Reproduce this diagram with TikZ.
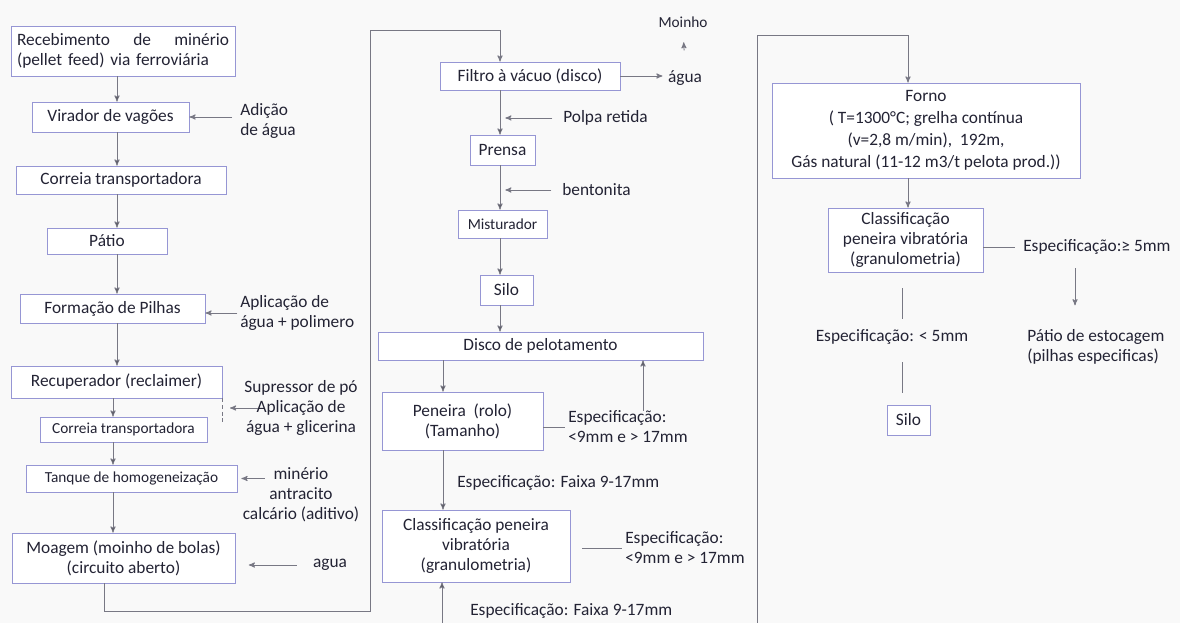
\documentclass[tikz,border=0pt]{standalone}
\usepackage{fontspec}
\setmainfont{Carlito}
\usepackage{tikz}
\usetikzlibrary{arrows, positioning}
\definecolor{caixa_lilas}{RGB}{150,150,212}
\definecolor{linha_cinza}{RGB}{120,120,132}
\definecolor{texto_escuro}{RGB}{35,35,52}
\definecolor{fundo}{RGB}{249,249,249}

\begin{document}
\begin{tikzpicture}[x=0.75pt, y=-0.75pt]
	\tikzset{
		>=stealth', % pontas de seta pequenas
		every node/.style={font=\fontsize{13}{15}\selectfont, text=texto_escuro, inner sep=0pt}, % texto de todos os nos
		linha/.style={draw=linha_cinza, line width=0.7pt}, % conectores
	}
	\tikzstyle{etapa} = [draw=caixa_lilas, fill=white, line width=0.7pt, align=center]
	\tikzstyle{menor} = [font=\fontsize{11.5}{13}\selectfont]
	\useasboundingbox (0,0) rectangle (1180,623);
	\fill[fundo] (0,0) rectangle (1180,623);

	% guias das colunas
	\coordinate (c0) at (104,0);
	\coordinate (c1) at (117,0);
	\coordinate (c1b) at (113,0);
	\coordinate (c2) at (500,0);
	\coordinate (c3) at (643,0);
	\coordinate (c4) at (443,0);
	\coordinate (c5) at (908,0);
	\coordinate (c6) at (1075,0);
	\coordinate (c7) at (902,0);
	\coordinate (lpa) at (370,611);
	\coordinate (lpb) at (500,30);
	\coordinate (frb) at (757,623);
	\coordinate (frt) at (908,35);
	\coordinate (baixo) at (442,623);
	\coordinate (supalvo) at (230,408);

	% coluna 1
	\node[etapa, minimum width=168pt, minimum height=37.5pt, text width=159pt, align=left] (receb) at (123,51) {Recebimento\hfill de\hfill minério\\(pellet feed) via ferroviária};
	\node[etapa, minimum width=117.75pt, minimum height=22.5pt] (virador) at (110.5,117) {Virador de vagões};
	\node[etapa, minimum width=157.5pt, minimum height=21pt] (correia) at (121,180) {Correia transportadora};
	\node[etapa, minimum width=90pt, minimum height=19.5pt] (patio) at (107,241) {Pátio};
	\node[etapa, minimum width=138.75pt, minimum height=21.75pt] (pilhas) at (112.5,308.5) {Formação de Pilhas};
	\node[etapa, minimum width=158.25pt, minimum height=24pt] (recup) at (116.5,382) {Recuperador (reclaimer)};
	\node[etapa, menor, minimum width=125.25pt, minimum height=18.75pt] (correiab) at (123.5,429.5) {Correia transportadora};
	\node[etapa, menor, minimum width=158.25pt, minimum height=20.25pt] (tanque) at (131.5,478.5) {Tanque de homogeneização};
	\node[etapa, minimum width=167.25pt, minimum height=37.5pt] (moagem) at (123.5,558) {Moagem (moinho de bolas)\\(circuito aberto)};

	\node[align=left, anchor=west] (adicao) at (240,121) {Adição\\de água};
	\node[align=left, anchor=west] (aplic) at (240,313) {Aplicação de\\água + polimero};
	\node[align=center] (supressor) at (301,408) {Supressor de pó\\Aplicação de\\água + glicerina};
	\node[align=center] (aditivos) at (301,495) {minério\\antracito\\calcário (aditivo)};
	\node (agua) at (330,565) {agua};

	% coluna 2
	\node[etapa, minimum width=135pt, minimum height=21pt] (filtro) at (530,76) {Filtro à vácuo (disco)};
	\node (aguaf) at (685,78) {água};
	\node[menor] (moinho) at (683,22) {Moinho};
	\node[anchor=west] (polpa) at (563,118) {Polpa retida};
	\node[etapa, minimum width=48.75pt, minimum height=22.5pt] (prensa) at (502.5,150) {Prensa};
	\node[anchor=west] (bentonita) at (562,190) {bentonita};
	\node[etapa, menor, minimum width=66.75pt, minimum height=21pt] (mistur) at (502.5,224) {Misturador};
	\node[etapa, minimum width=39.75pt, minimum height=22.5pt] (silo) at (506.5,290) {Silo};
	\node[etapa, minimum width=243.75pt, minimum height=21pt] (disco) at (540.5,346) {Disco de pelotamento};
	\node[etapa, minimum width=120.75pt, minimum height=43.5pt] (peneira) at (462.5,421) {Peneira \ (rolo)\\(Tamanho)};
	\node[align=left, anchor=west] (espa) at (568,427) {Especificação:\\<9mm e > 17mm};
	\node[anchor=west] (faixaa) at (457,483) {Especificação: Faixa 9-17mm};
	\node[etapa, minimum width=141pt, minimum height=54pt] (classif) at (476,546) {Classificação peneira\\vibratória\\(granulometria)};
	\node[align=left, anchor=west] (espb) at (625,548) {Especificação:\\<9mm e > 17mm};
	\node[anchor=west] (faixab) at (470,611) {Especificação: Faixa 9-17mm};

	% coluna 3
	\node[etapa, minimum width=231pt, minimum height=71.25pt, font=\fontsize{13}{16.5}\selectfont] (forno) at (926,130.5) {Forno\\( T=1300°C; grelha contínua\\(v=2,8 m/min), \ 192m,\\Gás natural (11-12 m3/t pelota prod.))};
	\node[etapa, minimum width=116.25pt, minimum height=48pt] (classc) at (905.5,240) {Classificação\\peneira vibratória\\(granulometria)};
	\node[anchor=west] (espc) at (1023,247) {Especificação:≥ 5mm};
	\node[align=left, anchor=west] (estoque) at (1027,347) {Pátio de estocagem\\(pilhas especificas)};
	\node (espd) at (892,337) {Especificação: < 5mm};
	\node[etapa, minimum width=32.25pt, minimum height=22.5pt] (silob) at (908.5,420) {Silo};

	% conectores da coluna 1
	\draw[linha]
	  (receb.south -| c1) edge[->] (virador.north -| c1)
	  (virador.south -| c1) edge[->] (correia.north -| c1)
	  (correia.south -| c1) edge[->] (patio.north -| c1)
	  (patio.south -| c1) edge[->] (pilhas.north -| c1)
	  (pilhas.south -| c1) edge[->] (recup.north -| c1)
	  (recup.south -| c1b) edge[->] (correiab.north -| c1b)
	  (correiab.south -| c1b) edge[->] (tanque.north -| c1b)
	  (tanque.south -| c1b) edge[->] (moagem.north -| c1b);
	\draw[linha, ->, shorten <=6pt] (adicao.west |- virador.east) -- (virador.east);
	\draw[linha, ->, shorten <=2pt] (aplic.west) -- (aplic.west -| pilhas.east);
	\draw[linha, densely dashed] (recup.south east) -- ++(0,26);
	\draw[linha, ->] ([xshift=10.5pt]supressor.west) -- (supalvo);
	\draw[linha, ->, shorten >=3pt] ([xshift=16.5pt]aditivos.west |- tanque.east) -- (tanque.east);
	\draw[linha, ->, shorten <=12pt, shorten >=10pt] (agua.west) -- (agua.west -| moagem.east);
	\draw[linha, ->] (moagem.south -| c0) |- (lpa) |- (lpb) -- (filtro.north -| c2);

	% conectores da coluna 2
	\draw[linha, ->, shorten >=4pt] (filtro.east) -- (filtro.east -| aguaf.west);
	\draw[linha, ->, shorten <=15pt, shorten >=11pt] (aguaf.north) -- (moinho.south);
	\draw[linha]
	  (filtro.south -| c2) edge[->] (prensa.north -| c2)
	  (prensa.south -| c2) edge[->] (mistur.north -| c2)
	  (mistur.south -| c2) edge[->] (silo.north -| c2)
	  (silo.south -| c2) edge[->] (disco.north -| c2)
	  (disco.south -| c4) edge[->] (peneira.north -| c4)
	  (peneira.south -| c4) edge[->] (classif.north -| c4)
	  (espa.north -| c3) edge[->] (disco.south -| c3)
	  (baixo) edge[->] (classif.south -| baixo);
	\draw[linha, ->, shorten <=8pt, shorten >=4pt] (polpa.west) -- (polpa.west -| c2);
	\draw[linha, ->, shorten <=8pt, shorten >=4pt] (bentonita.west) -- (bentonita.west -| c2);
	\draw[linha, shorten >=2pt] (peneira.east |- espa.west) -- (espa.west);
	\draw[linha, shorten <=9pt, shorten >=2pt] (classif.east |- espb.west) -- (espb.west);

	% conectores da coluna 3
	\draw[linha, ->] (frb) |- (frt) -- (forno.north -| c5);
	\draw[linha, ->] (forno.south -| c5) -- (classc.north -| c5);
	\draw[linha, shorten >=6pt] (classc.east |- espc.west) -- (espc.west);
	\draw[linha, ->, shorten <=10pt, shorten >=18pt] (espc.south -| c6) -- (estoque.north -| c6);
	\draw[linha, shorten <=12pt, shorten >=8pt] (classc.south -| c7) -- (espd.north -| c7);
	\draw[linha, shorten <=13pt, shorten >=9pt] (espd.south -| c7) -- (silob.north -| c7);
\end{tikzpicture}
\end{document}
